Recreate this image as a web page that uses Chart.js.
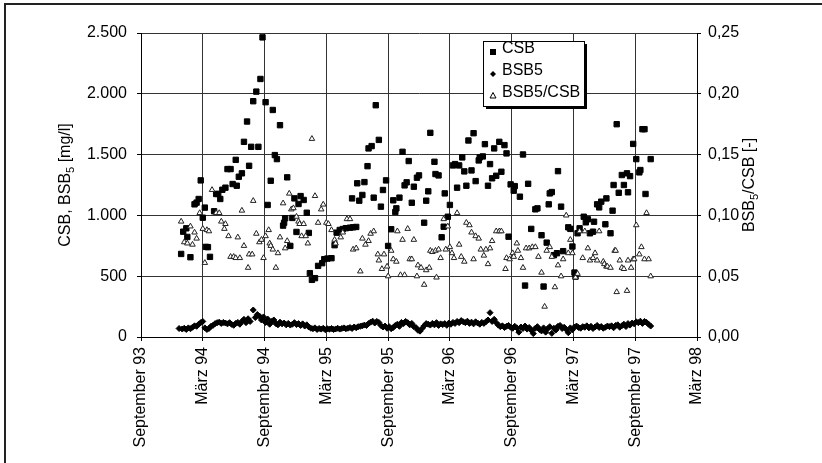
<!DOCTYPE html>
<html>
<head>
<meta charset="utf-8">
<script src="https://cdn.jsdelivr.net/npm/chart.js@4.4.1/dist/chart.umd.min.js"></script>
<style>
  html, body { margin: 0; padding: 0; background: #fff; }
  canvas { display: block; }
</style>
</head>
<body>
<canvas id="chart" width="822" height="463"></canvas>
<script>
// x values are months counted from September 1993
const xLabels = ['September 93', 'März 94', 'September 94', 'März 95', 'September 95',
  'März 96', 'September 96', 'März 97', 'September 97', 'März 98'];

const csbMonths = [3.9, 4.1, 4.4, 4.5, 4.8, 5.2, 5.4, 5.6, 5.8, 6.0, 6.2, 6.3, 6.5, 6.7, 7.1, 7.3, 7.5, 7.7, 7.9, 8.2,
  8.4, 8.7, 8.9, 9.2, 9.3, 9.5, 9.8, 10.0, 10.3, 10.5, 10.7, 10.9, 11.2, 11.4, 11.6, 11.8, 12.1, 12.3, 12.6, 12.8,
  13.0, 13.2, 13.5, 13.8, 13.9, 14.0, 14.2, 14.5, 14.7, 14.9, 15.1, 15.3, 15.5, 15.8, 16.1, 16.3, 16.4, 16.6, 16.9, 17.2,
  17.6, 17.8, 18.1, 18.5, 18.8, 19.0, 19.3, 19.6, 19.9, 20.3, 20.5, 20.6, 20.9, 21.0, 21.2, 21.5, 21.7, 22.0, 22.1, 22.4,
  22.6, 22.8, 23.1, 23.3, 23.5, 23.8, 24.0, 24.3, 24.5, 24.7, 24.8, 25.1, 25.4, 25.6, 25.8, 26.0, 26.3, 26.5, 26.8, 27.0,
  27.5, 27.7, 27.9, 28.1, 28.5, 28.6, 28.9, 29.2, 29.4, 29.5, 29.8, 30.0, 30.3, 30.5, 30.7, 30.9, 31.2, 31.4, 31.6, 31.8,
  32.1, 32.3, 32.5, 32.8, 32.9, 33.2, 33.4, 33.7, 33.9, 34.1, 34.3, 34.5, 34.8, 35.0, 35.3, 35.5, 35.7, 35.9, 36.2, 36.3,
  36.8, 37.1, 37.3, 37.6, 37.9, 38.3, 38.5, 38.9, 39.1, 39.4, 39.6, 39.7, 39.9, 40.1, 40.4, 40.5, 40.8, 41.0, 41.5, 41.7,
  41.9, 42.1, 42.2, 42.4, 42.6, 43.0, 43.2, 43.4, 43.6, 43.9, 44.0, 44.3, 44.5, 44.7, 45.1, 45.2, 45.6, 45.8, 45.9, 46.2,
  46.4, 46.7, 46.9, 47.2, 47.3, 47.5, 47.8, 48.1, 48.4, 48.5, 48.7, 48.9, 49.0, 49.5];
const csbValues = [683, 866, 894, 823, 656, 1091, 1105, 1135, 1288, 981, 1064, 741, 739, 659, 1034, 1176, 1176, 1135, 1211, 1228,
  1381, 1381, 1258, 1457, 1244, 1318, 1346, 1605, 1772, 1408, 1564, 1939, 2018, 1564, 2122, 2464, 1931, 1086, 1285, 1867,
  1496, 1463, 1742, 916, 940, 977, 1313, 749, 979, 1140, 864, 1094, 1159, 1127, 1022, 856, 525, 470, 484, 585,
  607, 640, 645, 648, 755, 858, 880, 888, 895, 899, 1140, 902, 905, 1264, 1121, 1168, 1274, 1405, 1551, 1570,
  1146, 1906, 1621, 1072, 1209, 1288, 749, 886, 1124, 1028, 1058, 1146, 1523, 1247, 1272, 1447, 1104, 1236, 1310, 1329,
  940, 1121, 1198, 1679, 1441, 1340, 1329, 820, 907, 1181, 989, 1086, 1411, 1422, 1228, 1411, 1477, 1362, 1244, 1616,
  1370, 1676, 1282, 1452, 1477, 1485, 1586, 1244, 1422, 1305, 1551, 1326, 1605, 1359, 1578, 1510, 825, 1255, 1203, 1241,
  1154, 1501, 423, 1260, 889, 1050, 1058, 837, 415, 776, 1091, 1181, 1192, 673, 689, 1364, 1072, 706, 902, 889,
  744, 530, 497, 853, 894, 989, 943, 968, 853, 866, 948, 1091, 1066, 1113, 927, 1140, 853, 1039, 1250, 1750,
  1186, 1332, 1250, 1346, 1190, 1323, 1588, 1463, 1354, 1373, 1709, 1709, 1176, 1463];

const bsbMonths = [3.7, 4.0, 4.2, 4.4, 4.6, 4.8, 5.0, 5.2, 5.4, 5.6, 5.8, 6.0, 6.2, 6.4, 6.6, 6.8, 7.0, 7.2, 7.4, 7.6,
  7.8, 8.0, 8.2, 8.4, 8.6, 8.8, 9.0, 9.2, 9.4, 9.6, 9.8, 10.0, 10.2, 10.4, 10.6, 10.9, 11.1, 11.3, 11.5, 11.7,
  11.9, 12.1, 12.3, 12.5, 12.7, 12.9, 13.1, 13.3, 13.5, 13.7, 13.9, 14.1, 14.3, 14.5, 14.7, 14.9, 15.1, 15.3, 15.5, 15.7,
  15.9, 16.1, 16.3, 16.5, 16.7, 16.9, 17.1, 17.3, 17.5, 17.7, 17.9, 18.1, 18.3, 18.5, 18.7, 18.9, 19.1, 19.3, 19.5, 19.7,
  19.9, 20.1, 20.3, 20.5, 20.7, 20.9, 21.1, 21.3, 21.5, 21.7, 21.9, 22.1, 22.3, 22.5, 22.7, 22.9, 23.1, 23.3, 23.5, 23.7,
  23.9, 24.1, 24.3, 24.5, 24.7, 24.9, 25.1, 25.3, 25.5, 25.7, 25.9, 26.1, 26.3, 26.5, 26.7, 26.9, 27.1, 27.3, 27.5, 27.7,
  27.9, 28.1, 28.3, 28.5, 28.7, 28.9, 29.1, 29.3, 29.5, 29.7, 29.9, 30.1, 30.3, 30.5, 30.7, 30.9, 31.1, 31.3, 31.5, 31.7,
  31.9, 32.1, 32.3, 32.5, 32.7, 32.9, 33.1, 33.3, 33.5, 33.7, 33.9, 34.1, 34.3, 34.5, 34.7, 34.9, 35.1, 35.3, 35.5, 35.7,
  35.9, 36.1, 36.3, 36.5, 36.7, 36.9, 37.1, 37.3, 37.5, 37.7, 37.9, 38.1, 38.3, 38.5, 38.7, 38.9, 39.1, 39.3, 39.5, 39.7,
  39.9, 40.1, 40.3, 40.5, 40.7, 40.9, 41.1, 41.3, 41.5, 41.7, 41.9, 42.1, 42.3, 42.5, 42.7, 42.9, 43.1, 43.3, 43.5, 43.7,
  43.9, 44.1, 44.3, 44.5, 44.7, 44.9, 45.1, 45.3, 45.5, 45.7, 45.9, 46.1, 46.3, 46.5, 46.7, 46.9, 47.1, 47.3, 47.5, 47.7,
  47.9, 48.1, 48.3, 48.5, 48.7, 48.9, 49.1, 49.3, 49.5];
const bsbValues = [70, 66, 72, 62, 75, 68, 80, 92, 88, 105, 118, 128, 75, 62, 70, 88, 96, 110, 118, 122,
  112, 120, 115, 108, 118, 104, 96, 112, 120, 105, 128, 145, 118, 150, 128, 222, 160, 185, 172, 140,
  165, 120, 148, 105, 128, 140, 110, 100, 122, 108, 115, 100, 112, 98, 105, 118, 102, 110, 95, 108,
  90, 100, 82, 72, 68, 75, 62, 70, 65, 72, 60, 68, 64, 70, 62, 66, 72, 65, 70, 75,
  68, 72, 78, 70, 82, 76, 85, 88, 92, 98, 95, 110, 122, 130, 115, 128, 120, 95, 82, 90,
  72, 85, 68, 78, 95, 105, 88, 120, 110, 128, 118, 100, 112, 85, 78, 55, 48, 70, 92, 110,
  105, 98, 112, 100, 118, 95, 108, 102, 110, 96, 115, 105, 120, 112, 128, 118, 135, 125, 118, 130,
  112, 122, 108, 125, 115, 105, 120, 112, 125, 140, 200, 128, 145, 118, 98, 85, 92, 78, 88, 95,
  80, 72, 88, 75, 40, 82, 70, 90, 65, 78, 55, 28, 72, 85, 62, 50, 75, 40, 68, 85,
  30, 72, 58, 88, 95, 70, 80, 62, 35, 75, 60, 82, 90, 78, 72, 85, 80, 92, 75, 88,
  70, 82, 95, 78, 86, 72, 80, 90, 85, 92, 76, 95, 100, 80, 92, 105, 86, 110, 98, 115,
  108, 125, 118, 130, 112, 128, 120, 105, 90];

const ratioMonths = [3.9, 4.2, 4.5, 4.8, 5.0, 5.2, 5.4, 5.7, 6.0, 6.2, 6.4, 6.6, 6.9, 7.3, 7.6, 7.8, 8.1, 8.2, 8.5, 8.7,
  9.0, 9.2, 9.4, 9.6, 9.8, 10.0, 10.4, 10.5, 10.8, 10.9, 11.2, 11.5, 11.7, 11.9, 12.1, 12.4, 12.5, 12.6, 12.8, 13.1,
  13.3, 13.5, 13.8, 14.0, 14.2, 14.4, 14.6, 14.8, 15.1, 15.3, 15.4, 15.6, 15.8, 16.0, 16.2, 16.6, 16.9, 17.2, 17.5, 17.7,
  18.0, 18.2, 18.5, 18.8, 18.9, 19.4, 19.6, 20.0, 20.3, 20.6, 20.9, 21.3, 21.5, 21.8, 22.1, 22.3, 22.6, 23.0, 23.1, 23.4,
  23.6, 23.9, 24.0, 24.3, 24.5, 24.8, 24.9, 25.2, 25.4, 25.6, 25.9, 26.1, 26.3, 26.5, 26.8, 26.9, 27.2, 27.5, 27.7, 28.0,
  28.1, 28.3, 28.6, 28.7, 28.9, 29.1, 29.4, 29.6, 29.8, 30.0, 30.2, 30.4, 30.7, 30.9, 31.1, 31.4, 31.6, 31.9, 32.1, 32.3,
  32.5, 32.8, 33.0, 33.3, 33.5, 33.7, 33.9, 34.1, 34.5, 34.8, 35.0, 35.4, 35.5, 35.8, 36.1, 36.2, 36.5, 36.6, 36.9, 37.1,
  37.4, 37.7, 38.0, 38.3, 38.6, 38.9, 39.2, 39.4, 39.7, 39.9, 40.2, 40.5, 40.8, 41.0, 41.3, 41.5, 41.7, 41.9, 42.2, 42.4,
  42.6, 42.9, 43.1, 43.4, 43.6, 43.9, 44.1, 44.3, 44.5, 44.9, 45.0, 45.2, 45.3, 45.6, 46.0, 46.1, 46.2, 46.5, 46.7, 46.9,
  47.2, 47.3, 47.6, 47.8, 47.9, 48.1, 48.4, 48.6, 48.9, 49.1, 49.3, 49.5];
const ratioValues = [0.095, 0.078, 0.077, 0.091, 0.076, 0.086, 0.081, 0.102, 0.089, 0.061, 0.088, 0.087, 0.121, 0.102, 0.102, 0.095, 0.089, 0.093, 0.083, 0.066,
  0.066, 0.065, 0.082, 0.065, 0.104, 0.075, 0.057, 0.068, 0.068, 0.112, 0.085, 0.078, 0.080, 0.065, 0.083, 0.088, 0.077, 0.075, 0.072, 0.057,
  0.069, 0.082, 0.110, 0.073, 0.079, 0.118, 0.105, 0.106, 0.099, 0.095, 0.093, 0.083, 0.093, 0.083, 0.077, 0.163, 0.116, 0.094, 0.105, 0.109,
  0.094, 0.093, 0.088, 0.080, 0.077, 0.082, 0.086, 0.097, 0.097, 0.072, 0.073, 0.054, 0.081, 0.076, 0.079, 0.085, 0.087, 0.068, 0.063, 0.056,
  0.068, 0.058, 0.050, 0.071, 0.064, 0.062, 0.087, 0.051, 0.080, 0.051, 0.089, 0.064, 0.064, 0.080, 0.050, 0.059, 0.057, 0.043, 0.055, 0.057,
  0.071, 0.070, 0.071, 0.049, 0.072, 0.065, 0.097, 0.072, 0.091, 0.074, 0.069, 0.065, 0.102, 0.076, 0.066, 0.062, 0.094, 0.092, 0.086, 0.064,
  0.083, 0.081, 0.072, 0.067, 0.072, 0.060, 0.073, 0.079, 0.087, 0.087, 0.087, 0.056, 0.065, 0.064, 0.069, 0.066, 0.077, 0.071, 0.065, 0.057,
  0.073, 0.073, 0.074, 0.074, 0.066, 0.053, 0.025, 0.071, 0.074, 0.066, 0.041, 0.059, 0.050, 0.064, 0.100, 0.069, 0.080, 0.069, 0.049, 0.052,
  0.087, 0.065, 0.087, 0.073, 0.063, 0.065, 0.069, 0.063, 0.087, 0.062, 0.060, 0.058, 0.058, 0.057, 0.071, 0.071, 0.037, 0.063, 0.057, 0.056,
  0.038, 0.063, 0.057, 0.064, 0.064, 0.092, 0.068, 0.074, 0.064, 0.102, 0.064, 0.050];

const fontFamily = "'Liberation Sans', Arial, Helvetica, sans-serif";

function pairUp(xs, ys) {
  return xs.map((x, i) => ({ x: x, y: ys[i] }));
}

function formatThousands(v) {
  const s = String(Math.round(v));
  return s.replace(/\B(?=(\d{3})+(?!\d))/g, '.');
}

// square, diamond, triangle as in the legend box
function drawMarker(ctx, kind, x, y) {
  ctx.save();
  ctx.fillStyle = '#000';
  ctx.strokeStyle = '#000';
  ctx.lineWidth = 1;
  if (kind === 'rect') {
    ctx.fillRect(x - 3, y - 3, 6, 6);
  } else if (kind === 'rectRot') {
    ctx.beginPath();
    ctx.moveTo(x, y - 3);
    ctx.lineTo(x + 3, y);
    ctx.lineTo(x, y + 3);
    ctx.lineTo(x - 3, y);
    ctx.closePath();
    ctx.fill();
  } else {
    ctx.beginPath();
    ctx.moveTo(x, y - 3.5);
    ctx.lineTo(x + 3, y + 2);
    ctx.lineTo(x - 3, y + 2);
    ctx.closePath();
    ctx.fillStyle = '#fff';
    ctx.fill();
    ctx.stroke();
  }
  ctx.restore();
}

function drawRotatedTitle(ctx, parts, cx, cy) {
  const big = '16px ' + fontFamily;
  const small = '11px ' + fontFamily;
  ctx.save();
  ctx.translate(cx, cy);
  ctx.rotate(-Math.PI / 2);
  ctx.fillStyle = '#000';
  ctx.textBaseline = 'middle';
  ctx.textAlign = 'left';
  let total = 0;
  parts.forEach(p => {
    ctx.font = p[1] ? small : big;
    total += ctx.measureText(p[0]).width;
  });
  let x = -total / 2;
  parts.forEach(p => {
    ctx.font = p[1] ? small : big;
    ctx.fillText(p[0], x, p[1] ? 5 : 0);
    x += ctx.measureText(p[0]).width;
  });
  ctx.restore();
}

const decorations = {
  id: 'decorations',
  beforeDraw(chart) {
    const ctx = chart.ctx;
    ctx.save();
    ctx.fillStyle = '#fff';
    ctx.fillRect(0, 0, chart.width, chart.height);
    // frame of the scanned figure: top and left edges only
    ctx.strokeStyle = '#222';
    ctx.lineWidth = 2;
    ctx.beginPath();
    ctx.moveTo(5, chart.height);
    ctx.lineTo(5, 4);
    ctx.lineTo(chart.width, 4);
    ctx.stroke();
    ctx.restore();
  },
  afterDraw(chart) {
    const ctx = chart.ctx;
    const area = chart.chartArea;
    const midY = (area.top + area.bottom) / 2;
    drawRotatedTitle(ctx, [['CSB, BSB', false], ['5', true], [' [mg/l]', false]], 66, midY);
    drawRotatedTitle(ctx, [['BSB', false], ['5', true], ['/CSB [-]', false]], 750, midY);

    // legend box with drop shadow
    const bx = 483, by = 41, bw = 101, bh = 65;
    ctx.save();
    ctx.fillStyle = '#000';
    ctx.fillRect(bx + 3, by + 3, bw, bh);
    ctx.fillStyle = '#fff';
    ctx.fillRect(bx, by, bw, bh);
    ctx.strokeStyle = '#000';
    ctx.lineWidth = 1;
    ctx.strokeRect(bx + 0.5, by + 0.5, bw, bh);
    ctx.font = '16px ' + fontFamily;
    ctx.fillStyle = '#000';
    ctx.textBaseline = 'middle';
    const rows = [49, 71, 93];
    chart.data.datasets.forEach((ds, i) => {
      drawMarker(ctx, ds.pointStyle, 493, rows[i] + 3);
      ctx.fillText(ds.label, 502, rows[i]);
    });
    ctx.restore();
  }
};

const tickFont = { family: fontFamily, size: 16 };

new Chart(document.getElementById('chart'), {
  type: 'scatter',
  data: {
    datasets: [
      {
        label: 'CSB',
        data: pairUp(csbMonths, csbValues),
        yAxisID: 'y',
        pointStyle: 'rect',
        pointRadius: 3.8,
        backgroundColor: '#000',
        borderColor: '#000',
        borderWidth: 1,
        order: 2
      },
      {
        label: 'BSB5',
        data: pairUp(bsbMonths, bsbValues),
        yAxisID: 'y',
        pointStyle: 'rectRot',
        pointRadius: 3,
        backgroundColor: '#000',
        borderColor: '#000',
        borderWidth: 1,
        order: 1
      },
      {
        label: 'BSB5/CSB',
        data: pairUp(ratioMonths, ratioValues),
        yAxisID: 'y2',
        pointStyle: 'triangle',
        pointRadius: 3.2,
        backgroundColor: '#fff',
        borderColor: '#222',
        borderWidth: 1,
        order: 0
      }
    ]
  },
  options: {
    responsive: false,
    animation: false,
    layout: { padding: { left: 0, right: 0, top: 33, bottom: 0 } },
    plugins: {
      legend: { display: false },
      tooltip: { enabled: false },
      title: { display: false }
    },
    scales: {
      x: {
        type: 'linear',
        min: 0,
        max: 54,
        afterFit(scale) { scale.height = 126; },
        ticks: {
          stepSize: 6,
          autoSkip: false,
          minRotation: 90,
          maxRotation: 90,
          padding: 6,
          color: '#000',
          font: tickFont,
          callback: v => xLabels[Math.round(v / 6)]
        },
        grid: { color: '#333', lineWidth: 1, tickLength: 4, tickColor: '#000' },
        border: { color: '#000', width: 1 }
      },
      y: {
        position: 'left',
        min: 0,
        max: 2500,
        afterFit(scale) { scale.width = 141; },
        ticks: {
          stepSize: 500,
          padding: 10,
          color: '#000',
          font: tickFont,
          callback: v => formatThousands(v)
        },
        grid: { color: '#333', lineWidth: 1, tickLength: 4, tickColor: '#000' },
        border: { color: '#000', width: 1 }
      },
      y2: {
        position: 'right',
        min: 0,
        max: 0.25,
        afterFit(scale) { scale.width = 125; },
        ticks: {
          stepSize: 0.05,
          padding: 7,
          color: '#000',
          font: tickFont,
          callback: v => v.toFixed(2).replace('.', ',')
        },
        grid: { drawOnChartArea: false, tickLength: 4, tickColor: '#000' },
        border: { color: '#000', width: 1 }
      }
    }
  },
  plugins: [decorations]
});
</script>
</body>
</html>
